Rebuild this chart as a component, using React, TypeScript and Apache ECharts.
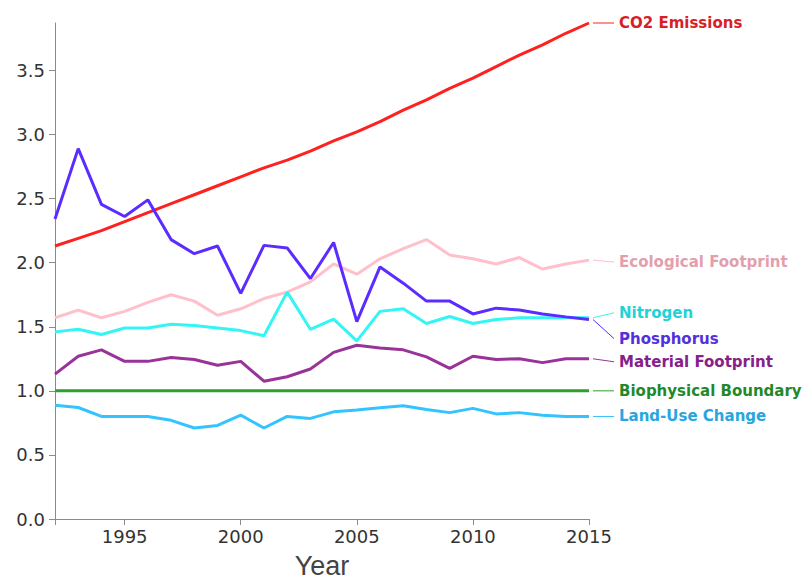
import React, { useEffect, useRef } from "react";
import * as echarts from "echarts";

const years = [1992, 1993, 1994, 1995, 1996, 1997, 1998, 1999, 2000, 2001, 2002, 2003, 2004, 2005, 2006, 2007, 2008, 2009, 2010, 2011, 2012, 2013, 2014, 2015];

const co2Emissions = [2.13, 2.19, 2.25, 2.32, 2.39, 2.46, 2.53, 2.6, 2.67, 2.74, 2.8, 2.87, 2.95, 3.02, 3.1, 3.19, 3.27, 3.36, 3.44, 3.53, 3.62, 3.7, 3.79, 3.87];
const ecologicalFootprint = [1.57, 1.63, 1.57, 1.62, 1.69, 1.75, 1.7, 1.59, 1.64, 1.72, 1.77, 1.85, 1.99, 1.91, 2.03, 2.11, 2.18, 2.06, 2.03, 1.99, 2.04, 1.95, 1.99, 2.02];
const nitrogen = [1.46, 1.48, 1.44, 1.49, 1.49, 1.52, 1.51, 1.49, 1.47, 1.43, 1.77, 1.48, 1.56, 1.39, 1.62, 1.64, 1.525, 1.58, 1.525, 1.556, 1.57, 1.57, 1.57, 1.57];
const phosphorus = [2.34, 2.89, 2.455, 2.36, 2.49, 2.18, 2.07, 2.13, 1.76, 2.135, 2.115, 1.876, 2.157, 1.54, 1.967, 1.84, 1.7, 1.7, 1.6, 1.645, 1.63, 1.6, 1.577, 1.556];
const materialFootprint = [1.13, 1.27, 1.32, 1.23, 1.23, 1.26, 1.245, 1.2, 1.23, 1.075, 1.11, 1.17, 1.3, 1.356, 1.335, 1.32, 1.265, 1.175, 1.27, 1.245, 1.25, 1.22, 1.25, 1.25];
const biophysicalBoundary = [1, 1, 1, 1, 1, 1, 1, 1, 1, 1, 1, 1, 1, 1, 1, 1, 1, 1, 1, 1, 1, 1, 1, 1];
const landUseChange = [0.888, 0.87, 0.8, 0.8, 0.8, 0.77, 0.71, 0.73, 0.81, 0.71, 0.8, 0.785, 0.836, 0.85, 0.868, 0.883, 0.855, 0.83, 0.863, 0.82, 0.83, 0.81, 0.8, 0.8];

const xTickLabels = [1995, 2000, 2005, 2010, 2015];

const seriesDefs = [
  { name: "Ecological Footprint", data: ecologicalFootprint, color: "#ffc0cb", labelColor: "#e3a0ac", dy: 2 },
  { name: "Material Footprint", data: materialFootprint, color: "#993399", labelColor: "#86208a", dy: 3 },
  { name: "Biophysical Boundary", data: biophysicalBoundary, color: "#2ca02c", labelColor: "#22882a", dy: 0 },
  { name: "Land-Use Change", data: landUseChange, color: "#33c4ff", labelColor: "#27a6df", dy: 0 },
  { name: "CO2 Emissions", data: co2Emissions, color: "#ff2020", labelColor: "#d81e26", dy: 0 },
  { name: "Nitrogen", data: nitrogen, color: "#33f5f5", labelColor: "#22d2d6", dy: -5 },
  { name: "Phosphorus", data: phosphorus, color: "#5a2cff", labelColor: "#5230dc", dy: 19 },
];

const axisFont = "DejaVu Sans, Verdana, sans-serif";

export default function App() {
  const ref = useRef<HTMLDivElement>(null);
  useEffect(() => {
    if (!ref.current) return;
    const chart = echarts.init(ref.current, undefined, { renderer: "svg" });
    const axisColor = "#8a8a8a";
    chart.setOption({
      animation: false,
      backgroundColor: "#ffffff",
      grid: { left: 55, right: 216, top: 23, bottom: 64, containLabel: false, outerBoundsMode: "none" },
      xAxis: {
        type: "value",
        min: 1992,
        max: 2015,
        name: "Year",
        nameLocation: "middle",
        nameGap: 35,
        nameTextStyle: { fontSize: 27, lineHeight: 24, color: "#444", fontFamily: "Liberation Sans, Arial, sans-serif" },
        axisLine: { show: true, lineStyle: { color: axisColor, width: 1 } },
        axisTick: { show: true, length: 6, lineStyle: { color: axisColor }, customValues: [1992, ...xTickLabels] },
        axisLabel: {
          customValues: xTickLabels,
          fontSize: 18,
          color: "#333",
          margin: 8,
          fontFamily: axisFont,
          formatter: (v: number) => String(v),
        },
        splitLine: { show: false },
      },
      yAxis: {
        type: "value",
        min: 0,
        max: 3.87,
        interval: 0.5,
        axisLine: { show: true, lineStyle: { color: axisColor, width: 1 } },
        axisTick: { show: true, length: 6, lineStyle: { color: axisColor } },
        axisLabel: {
          fontSize: 18,
          color: "#333",
          margin: 10,
          showMaxLabel: false,
          fontFamily: axisFont,
          formatter: (v: number) => v.toFixed(1),
        },
        splitLine: { show: false },
      },
      series: seriesDefs.map((d) => ({
        name: d.name,
        type: "line",
        data: years.map((y, i) => [y, d.data[i]]),
        symbol: "none",
        lineStyle: { color: d.color, width: 3 },
        itemStyle: { color: d.color },
        emphasis: { disabled: true },
      })),
    });

    const lastYear = years[years.length - 1];
    const graphics: any[] = [];
    seriesDefs.forEach((d) => {
      const last = d.data[d.data.length - 1];
      const [px, py] = chart.convertToPixel({ gridIndex: 0 }, [lastYear, last]) as number[];
      const ly = py + d.dy;
      graphics.push({
        type: "line",
        shape: { x1: px + 4, y1: py, x2: px + 25, y2: ly },
        style: { stroke: d.color, lineWidth: 1 },
        silent: true,
      });
      graphics.push({
        type: "text",
        x: px + 30,
        y: ly,
        style: {
          text: d.name,
          fill: d.labelColor,
          fontSize: 15,
          fontWeight: "bold",
          fontFamily: "DejaVu Sans, Verdana, sans-serif",
          verticalAlign: "middle",
          align: "left",
        },
        silent: true,
      });
    });
    chart.setOption({ graphic: graphics });

    return () => chart.dispose();
  }, []);
  return <div ref={ref} style={{ position: "absolute", left: 0, top: 0, width: 805, height: 583 }} />;
}
